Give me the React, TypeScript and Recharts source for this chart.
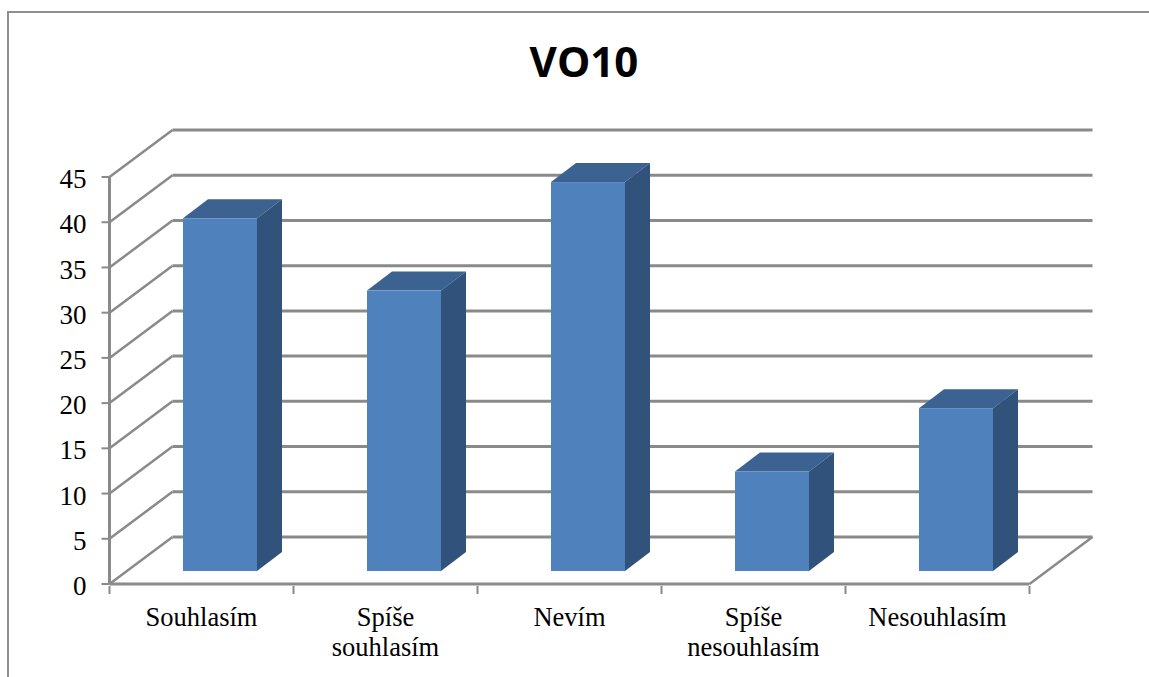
import { BarChart, Bar, XAxis, YAxis, ReferenceLine } from "recharts";

const categories = ["Souhlasím", "Spíše souhlasím", "Nevím", "Spíše nesouhlasím", "Nesouhlasím"];
const values = [39, 31, 43, 11, 18];
const yTicks = [0, 5, 10, 15, 20, 25, 30, 35, 40, 45];

const data = categories.map((name, i) => ({ name, value: values[i] }));

const AXIS_COLOR = "#8A8A8A";
const SERIF = '"Liberation Serif", serif';

// Depth of the 3D floor and of the bars, as screen offsets
const WALL_DX = 63;
const WALL_DY = 47;
const BAR_SHIFT_X = 18.3;
const BAR_SHIFT_Y = 13;
const BAR_DX = 25;
const BAR_DY = 19;
const SLOT = 184;

// Grid line: diagonal up the side wall, then along the back wall
function WallLine(props: any) {
	const { x1, y1, x2, y2 } = props;
	const isFloor = props.isFloor;
	return (
		<g fill="none" stroke={AXIS_COLOR}>
			<line x1={x1} y1={y1} x2={x1 + WALL_DX} y2={y1 - WALL_DY} strokeWidth={2.5} />
			<line x1={x1 + WALL_DX} y1={y1 - WALL_DY} x2={x2 + WALL_DX} y2={y2 - WALL_DY} strokeWidth={3} />
			{isFloor && <line x1={x2} y1={y2} x2={x2 + WALL_DX} y2={y2 - WALL_DY} strokeWidth={2.5} />}
		</g>
	);
}

function Bar3D(props: any) {
	const { x, y, width, height } = props;
	const left = x + BAR_SHIFT_X;
	const right = left + width;
	const top = y - BAR_SHIFT_Y;
	const bottom = top + height;
	return (
		<g>
			<path
				d={`M${left},${top} L${left + BAR_DX},${top - BAR_DY} L${right + BAR_DX},${top - BAR_DY} L${right},${top} Z`}
				fill="#3B6290"
			/>
			<path
				d={`M${right},${top} L${right + BAR_DX},${top - BAR_DY} L${right + BAR_DX},${bottom - BAR_DY} L${right},${bottom} Z`}
				fill="#31527A"
			/>
			<rect x={left} y={top} width={width} height={height} fill="#4F81BD" />
		</g>
	);
}

// Category label split over lines, plus the tick marks on the slot boundaries
function CategoryTick(props: any) {
	const { x, y, payload, index } = props;
	const words: string[] = String(payload.value).split(" ");
	return (
		<g>
			<line x1={x - SLOT / 2} y1={y - 8} x2={x - SLOT / 2} y2={y} stroke={AXIS_COLOR} strokeWidth={2} />
			{index === categories.length - 1 && (
				<line x1={x + SLOT / 2} y1={y - 8} x2={x + SLOT / 2} y2={y} stroke={AXIS_COLOR} strokeWidth={2} />
			)}
			{words.map((word, i) => (
				<text key={word} x={x} y={y + 31.5 + i * 30} textAnchor="middle" fill="#000" fontFamily={SERIF} fontSize={26.5}>
					{word}
				</text>
			))}
		</g>
	);
}

export default function App() {
	return (
		<div style={{ position: "absolute", left: 0, top: 0, width: 1149, height: 677, background: "#fff", overflow: "hidden" }}>
			{/* Chart frame, open on the right and at the bottom */}
			<div style={{ position: "absolute", left: 7, top: 11, width: 1160, height: 700, border: "2px solid #8E8E8E" }} />
			<div
				style={{
					position: "absolute",
					left: 0,
					width: 1168,
					textAlign: "center",
					top: 33,
					fontFamily: '"Open Sans", sans-serif',
					fontWeight: 700,
					fontSize: 42,
					lineHeight: "56px",
					color: "#000",
				}}
			>
				VO10
			</div>
			<div style={{ position: "absolute", left: 0, top: 0 }}>
				<BarChart
					width={1149}
					height={677}
					data={data}
					margin={{ top: 177, right: 119.5, left: 49.5, bottom: 53 }}
					barCategoryGap="30%"
				>
					{yTicks.map((t) => (
						<ReferenceLine
							key={t}
							y={t}
							ifOverflow="visible"
							zIndex={100}
							shape={(p: any) => <WallLine {...p} isFloor={t === 0} />}
						/>
					))}
					<XAxis
						dataKey="name"
						height={40}
						interval={0}
						axisLine={{ stroke: AXIS_COLOR, strokeWidth: 3 }}
						tickLine={false}
						tick={<CategoryTick />}
						tickSize={8}
					/>
					<YAxis
						width={60}
						domain={[0, 45]}
						ticks={yTicks}
						interval={0}
						axisLine={{ stroke: AXIS_COLOR, strokeWidth: 3 }}
						tickLine={{ stroke: AXIS_COLOR, strokeWidth: 2 }}
						tickSize={8}
						tickMargin={15}
						tick={{ fill: "#000", fontSize: 27, fontFamily: SERIF, dy: 1.5 }}
					/>
					<Bar dataKey="value" isAnimationActive={false} shape={<Bar3D />} />
				</BarChart>
			</div>
		</div>
	);
}
